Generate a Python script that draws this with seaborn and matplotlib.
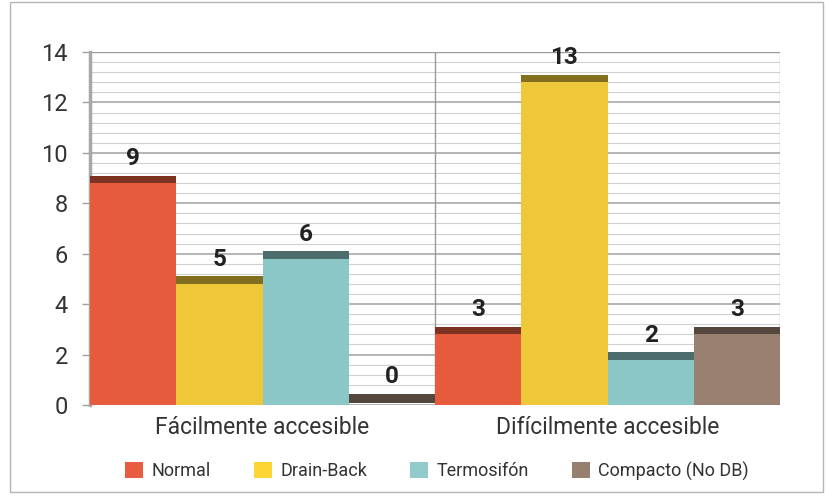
import matplotlib
matplotlib.use("Agg")
import matplotlib.pyplot as plt
import seaborn as sns
import pandas as pd
import numpy as np
from matplotlib.patches import Rectangle
from matplotlib.colors import to_rgb

categories = ["Fácilmente accesible", "Difícilmente accesible"]
series = ["Normal", "Drain-Back", "Termosifón", "Compacto (No DB)"]
normal = [9, 3]
drain_back = [5, 13]
termosifon = [6, 2]
compacto = [0, 3]
colors = ["#E55B3C", "#EFC83A", "#8CC7C7", "#9A8070"]
legend_colors = ["#E85C40", "#FDD535", "#92CACB", "#97806F"]

rows = []
for s, vals in zip(series, [normal, drain_back, termosifon, compacto]):
    for c, v in zip(categories, vals):
        rows.append({"cat": c, "serie": s, "valor": v})
df = pd.DataFrame(rows)

sns.set_theme(style="white")
plt.rcParams['font.family'] = ['Roboto', 'DejaVu Sans']

fig = plt.figure(figsize=(8.26, 5.0), dpi=100)
ax = fig.add_axes([90/826, 1-405/500, 690/826, 353/500])

sns.barplot(data=df, x="cat", y="valor", hue="serie", order=categories,
            hue_order=series, palette=colors, width=1.0, dodge=True,
            saturation=1, ax=ax, legend=False, zorder=3, linewidth=0,
            edgecolor="none")

ax.set_ylim(0, 14)
ax.set_xlim(-0.5, 1.5)
ax.set_yticks(range(0, 15, 2))
ax.set_yticks(np.arange(0, 14.01, 0.4), minor=True)
ax.grid(True, which="major", axis="y", color="#a8a8a8", lw=1.2, zorder=0)
ax.grid(True, which="minor", axis="y", color="#d0d0d0", lw=0.8, zorder=0)
ax.axvline(0.5, color="#9a9a9a", lw=1, zorder=1)
ax.axvline(1.5, color="#b0b0b0", lw=1, zorder=1)
ax.axhline(14, color="#9a9a9a", lw=1, zorder=1)

for sp in ["top", "right", "bottom"]:
    ax.spines[sp].set_visible(False)
ax.spines["left"].set_color("#a8a8a8")
ax.spines["left"].set_linewidth(2.5)

ax.tick_params(axis="y", which="major", length=6, color="#a0a0a0", width=1,
               labelsize=17, labelcolor="#333333", pad=10, left=True)
ax.tick_params(axis="y", which="minor", length=0)
ax.tick_params(axis="x", length=0, labelsize=16.5, labelcolor="#333333", pad=8)
ax.set_xlabel("")
ax.set_ylabel("")

# darker top strips + value labels
for p in list(ax.patches):
    h = p.get_height()
    x0 = p.get_x()
    w = p.get_width()
    base = to_rgb(p.get_facecolor())
    dark = tuple(c * 0.55 for c in base)
    if h > 0:
        y0, y1 = h - 0.2, h + 0.1
    else:
        y0, y1 = 0.08, 0.45
    ax.add_patch(Rectangle((x0, y0), w, y1 - y0, facecolor=dark,
                           edgecolor="none", zorder=4))
    ax.text(x0 + w / 2, y1 + 0.22, f"{int(h)}", ha="center",
            va="bottom", fontsize=17.5, fontweight="bold", color="#222222", zorder=5)

# legend
handles = [Rectangle((0, 0), 1, 1, facecolor=c, edgecolor="none") for c in legend_colors]
leg = fig.legend(handles, series, loc="center", bbox_to_anchor=(437/826, 1 - 471/500),
                 ncol=4, frameon=False, fontsize=13, handlelength=1.0, handleheight=0.95,
                 columnspacing=2.4, handletextpad=0.45, labelcolor="#333333",
                 borderpad=0, borderaxespad=0)

# figure frame
fig.patches.append(Rectangle((10/826, 8/500), 813/826, 490/500, transform=fig.transFigure,
                             fill=False, edgecolor="#b5b5b5", lw=1))

fig.savefig("out.png", dpi=100)
